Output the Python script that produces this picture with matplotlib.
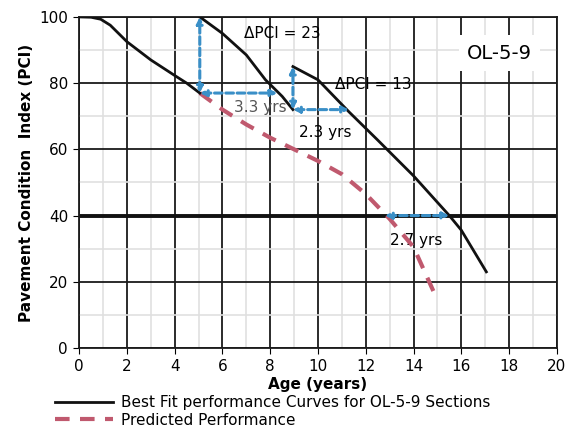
import matplotlib as mpl
mpl.use('Agg')
import matplotlib.pyplot as plt
from matplotlib.ticker import MultipleLocator

# best fit curves, three segments (original, after first and second treatment)
fit1_age = [0, 0.5, 0.9, 1.3, 2, 3, 4, 4.5, 5.05]
fit1_pci = [100, 99.9, 99.3, 97.5, 92.5, 87, 82.3, 80, 77]
fit2_age = [5.05, 6, 7, 7.8, 8.5, 8.95]
fit2_pci = [100, 95, 88.5, 81, 76, 72]
fit3_age = [8.95, 10, 11.3, 12.5, 14, 15.5, 16, 17.05]
fit3_pci = [85, 81, 71.3, 62.8, 52, 40, 35.6, 23]

# predicted performance without treatment
pred_age = [5.05, 6, 7, 8, 9, 10, 11, 12, 13, 14, 15]
pred_pci = [77, 72, 67.5, 63.5, 60, 56.5, 52.5, 46.5, 39, 30.5, 14.5]

threshold = 40
blue = '#3a8fc7'

fig = plt.figure(figsize=(5.74, 4.45), dpi=100)
ax = fig.add_axes([0.138, 0.218, 0.832, 0.744])

ax.set_xlim(0, 20)
ax.set_ylim(0, 100)
ax.xaxis.set_major_locator(MultipleLocator(2))
ax.xaxis.set_minor_locator(MultipleLocator(1))
ax.yaxis.set_major_locator(MultipleLocator(20))
ax.yaxis.set_minor_locator(MultipleLocator(10))
ax.grid(which='minor', color='#e0e0e0', lw=1.2)
ax.grid(which='major', color='#1a1a1a', lw=1.3)
ax.set_axisbelow(True)
for s in ax.spines.values():
    s.set_color('#1a1a1a')
    s.set_linewidth(1.3)
ax.tick_params(which='both', length=0, labelsize=11, pad=4)
ax.tick_params(which='major', length=4, direction='out')

ax.axhline(threshold, color='#111111', lw=2.8, zorder=2)

l1, = ax.plot(fit1_age, fit1_pci, color='#111111', lw=2, zorder=4)
ax.plot(fit2_age, fit2_pci, color='#111111', lw=2, zorder=4)
ax.plot(fit3_age, fit3_pci, color='#111111', lw=2, zorder=4)
l2, = ax.plot(pred_age, pred_pci, color='#c0596e', lw=3, ls=(0, (3.5, 2.5)), zorder=3)

def arrow(x0, y0, x1, y1):
    ax.annotate('', xy=(x1, y1), xytext=(x0, y0),
                arrowprops=dict(arrowstyle='<|-|>', color=blue, lw=2.2, ls=(0, (2.5, 1.2)),
                                mutation_scale=9, shrinkA=0, shrinkB=0), zorder=5)

arrow(5.05, 77, 5.05, 100)
arrow(5.05, 77, 8.3, 77)
arrow(8.95, 72, 8.95, 85)
arrow(8.95, 72, 11.3, 72)
arrow(12.8, 40, 15.5, 40)

ax.text(6.9, 95, 'ΔPCI = 23', fontsize=11, va='center', zorder=6)
ax.text(10.7, 79.5, 'ΔPCI = 13', fontsize=11, va='center', zorder=3)
ax.text(7.6, 72.5, '3.3 yrs', fontsize=11, va='center', ha='center', color='#555555', zorder=3)
ax.text(10.3, 65, '2.3 yrs', fontsize=11, va='center', ha='center', zorder=6)
ax.text(14.1, 32.6, '2.7 yrs', fontsize=11, va='center', ha='center', zorder=2)
ax.text(17.6, 89, 'OL-5-9', fontsize=14, va='center', ha='center', zorder=6,
        bbox=dict(facecolor='white', edgecolor='none', pad=6))

ax.set_xlabel('Age (years)', fontsize=11, fontweight='bold', labelpad=2)
ax.set_ylabel('Pavement Condition  Index (PCI)', fontsize=11, fontweight='bold', labelpad=4)

fig.legend([l1, l2], ['Best Fit performance Curves for OL-5-9 Sections', 'Predicted Performance'],
           loc='upper left', bbox_to_anchor=(0.085, 0.125), frameon=False, fontsize=11,
           handlelength=3.8, handletextpad=0.5, labelspacing=0.15, borderaxespad=0)

fig.savefig('out.png', dpi=100)
